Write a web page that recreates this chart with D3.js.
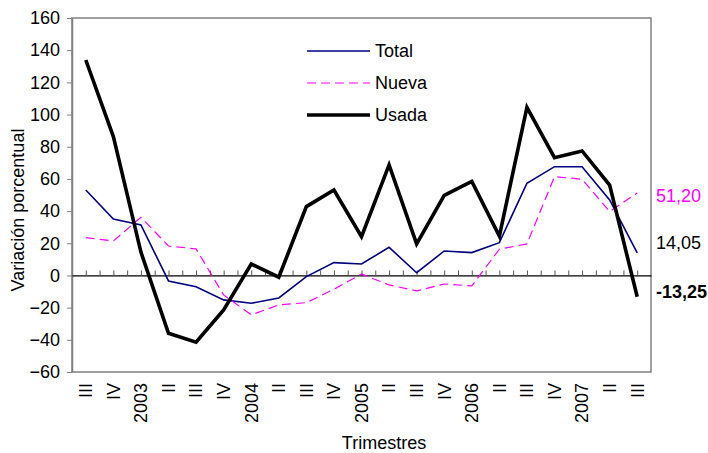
<!DOCTYPE html>
<html>
<head>
<meta charset="utf-8">
<script src="https://cdn.jsdelivr.net/npm/d3@7"></script>
<style>
  body { margin: 0; background: #fff; }
  text { font-family: "Liberation Sans", Arial, sans-serif; }
</style>
</head>
<body>
<script>
let width = 708;
let height = 453;
let fontSize = 18;

let quarters = ['III', 'IV', '2003', 'II', 'III', 'IV', '2004', 'II', 'III', 'IV', '2005',
                'II', 'III', 'IV', '2006', 'II', 'III', 'IV', '2007', 'II', 'III'];
let total = [53.1, 35.1, 31.4, -3.4, -7.0, -15.2, -17.3, -14.0, -0.7, 8.0, 7.1,
             17.5, 1.7, 15.2, 14.2, 20.4, 57.3, 67.6, 67.6, 46.9, 14.05];
let nueva = [23.5, 21.4, 36.2, 18.3, 16.5, -12.1, -24.5, -18.3, -16.9, -8.6, 0.9,
             -5.9, -9.6, -5.3, -6.5, 16.3, 19.6, 61.4, 59.8, 39.7, 51.20];
let usada = [133.9, 86.3, 14.5, -35.9, -41.5, -21.4, 7.1, -1.1, 42.8, 53.1, 24.1,
             68.7, 19.6, 49.8, 58.5, 24.5, 104.5, 73.2, 77.4, 56.2, -13.25];
let yTicks = d3.range(-60, 161, 20);

let series = [
  { name: 'Total', values: total, color: '#000080', width: 1.6, dash: null },
  { name: 'Nueva', values: nueva, color: '#ff00ff', width: 1.2, dash: '9,5' },
  { name: 'Usada', values: usada, color: '#000000', width: 3.6, dash: null }
];

let plotLeft = 72, plotRight = 651, plotTop = 18, plotBottom = 372;

let svg = d3.select('body').append('svg')
            .attr('width', width)
            .attr('height', height);

let xScale = d3.scaleBand()
                .domain(d3.range(quarters.length))
                .range([plotLeft, plotRight]);
let bw = xScale.bandwidth();
let xc = function(i) { return xScale(i) + bw / 2; };

let yScale = d3.scaleLinear()
                .domain([-60, 160])
                .range([plotBottom, plotTop]);

// plot frame (gray)
svg.append('rect')
    .attr('x', plotLeft).attr('y', plotTop)
    .attr('width', plotRight - plotLeft).attr('height', plotBottom - plotTop)
    .attr('fill', 'none')
    .attr('stroke', '#808080')
    .attr('stroke-width', 1.5);

// y axis
let yAxis = svg.append('g')
    .attr('transform', 'translate(' + plotLeft + ',0)')
    .call(d3.axisLeft(yScale).tickValues(yTicks).tickSize(5).tickSizeOuter(0).tickPadding(7));
yAxis.select('.domain').attr('stroke', '#808080').attr('stroke-width', 1.5);
yAxis.selectAll('line').attr('stroke', '#808080');
yAxis.selectAll('text')
    .attr('font-size', fontSize)
    .attr('fill', '#000');

// zero line with half-category ticks
let halfScale = d3.scaleLinear().domain([0, quarters.length * 2]).range([plotLeft, plotRight]);
let zeroAxis = svg.append('g')
    .attr('transform', 'translate(0,' + yScale(0) + ')')
    .call(d3.axisTop(halfScale).tickValues(d3.range(1, quarters.length * 2)).tickSize(5)
          .tickSizeOuter(0).tickFormat(''));
zeroAxis.select('.domain').attr('stroke', '#000').attr('stroke-width', 1.3);
zeroAxis.selectAll('line').attr('stroke', '#555');

// category labels
let xAxis = svg.append('g')
    .attr('transform', 'translate(0,' + plotBottom + ')')
    .call(d3.axisBottom(xScale).tickSize(0).tickFormat(function(i) { return quarters[i]; }));
xAxis.select('.domain').remove();
xAxis.selectAll('text')
    .attr('font-size', fontSize)
    .attr('fill', '#000')
    .attr('text-anchor', 'end')
    .attr('transform', 'rotate(-90)')
    .attr('x', -11)
    .attr('y', 0)
    .attr('dy', '0.35em');

// lines
let line = d3.line()
    .x(function(d, i) { return xc(i); })
    .y(function(d) { return yScale(d); });

svg.selectAll('path.series')
    .data(series)
    .enter()
    .append('path')
    .attr('class', 'series')
    .attr('d', function(d) { return line(d.values); })
    .attr('fill', 'none')
    .attr('stroke', function(d) { return d.color; })
    .attr('stroke-width', function(d) { return d.width; })
    .attr('stroke-dasharray', function(d) { return d.dash; })
    .attr('stroke-linejoin', 'miter');

// legend
let legend = svg.selectAll('g.legend')
    .data(series)
    .enter()
    .append('g')
    .attr('class', 'legend')
    .attr('transform', function(d, i) { return 'translate(307,' + (51 + i * 32) + ')'; });

legend.append('line')
    .attr('x1', 0).attr('x2', 63)
    .attr('stroke', function(d) { return d.color; })
    .attr('stroke-width', function(d) { return d.width; })
    .attr('stroke-dasharray', function(d) { return d.dash; });

legend.append('text')
    .attr('x', 68)
    .attr('dy', '0.35em')
    .attr('font-size', fontSize)
    .text(function(d) { return d.name; });

// end value labels
let endLabels = [
  { text: '51,20', y: 196, color: '#ff00ff', weight: 'normal' },
  { text: '14,05', y: 243, color: '#000', weight: 'normal' },
  { text: '-13,25', y: 292, color: '#000', weight: 'bold' }
];
svg.selectAll('text.endlabel')
    .data(endLabels)
    .enter()
    .append('text')
    .attr('class', 'endlabel')
    .attr('x', 656)
    .attr('y', function(d) { return d.y; })
    .attr('dy', '0.35em')
    .attr('font-size', fontSize)
    .attr('font-weight', function(d) { return d.weight; })
    .attr('fill', function(d) { return d.color; })
    .text(function(d) { return d.text; });

// axis titles
svg.append('text')
    .attr('transform', 'translate(24,' + 210 + ') rotate(-90)')
    .attr('text-anchor', 'middle')
    .attr('font-size', fontSize)
    .text('Variación porcentual');

svg.append('text')
    .attr('x', 384)
    .attr('y', 449)
    .attr('text-anchor', 'middle')
    .attr('font-size', fontSize)
    .text('Trimestres');
</script>
</body>
</html>
